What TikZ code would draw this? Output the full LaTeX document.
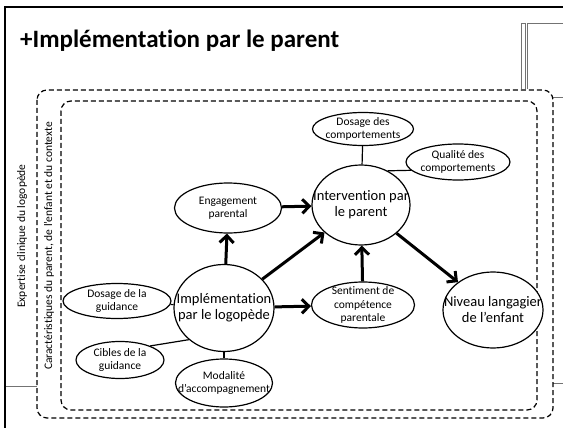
\documentclass[tikz,border=0pt]{standalone}
\usepackage{fontspec}
\setmainfont{Carlito}[Ligatures=NoCommon]
\usetikzlibrary{shapes.geometric,arrows.meta}
\begin{document}
\begin{tikzpicture}[x=1pt,y=-1pt,
  ell/.style={ellipse,draw,line width=1.2pt,fill=white,inner sep=0pt},
  small/.style={label={[font=\fontsize{11.5}{13.5}\selectfont,align=center,inner sep=0pt]center:#1}},
  big/.style={label={[font=\fontsize{14.5}{16}\selectfont,align=center,inner sep=0pt]center:#1}},
  bigarrow/.style={line width=3pt,-{Straight Barb[length=7pt,width=14pt]}},
  thinline/.style={line width=1.2pt},
  dashbox/.style={draw,dash pattern=on 5pt off 3pt,line width=1.2pt,rounded corners=10pt},
  grayline/.style={draw=black!55,line width=1pt},
  sidetext/.style={rotate=90,font=\fontsize{11.5}{13}\selectfont}]
\useasboundingbox[fill=white] (0,0) rectangle (563,428);
% slide frame pieces
\draw[grayline] (521,89) -- (521,24) -- (525,24) -- (525,89);
\draw[grayline] (527,89) -- (527,24) -- (563,24);
\draw[grayline] (553,98) -- (563,98);
\draw[grayline] (553,383) -- (563,383);
\draw[grayline] (5,386) -- (37,386);
\draw[line width=2pt] (5,428) -- (5,7) -- (563,7);
% title
\node[anchor=base west,inner sep=0pt,font=\bfseries\fontsize{25}{30}\selectfont] (title) at (20,48) {+Implémentation par le parent};
% dashed context boxes
\draw[dashbox] (37,90) rectangle (553,418);
\draw[dashbox] (61,101) rectangle (537,410);
\node[sidetext] (expertise) at (22,236) {Expertise clinique du logopède};
\node[sidetext] (carac) at (49,246) {Caractéristiques du parent, de l’enfant et du contexte};
% nodes
\node[ell,small={Engagement\\parental},minimum width=107pt,minimum height=50pt] (eng) at (228,208) {};
\node[ell,big={Intervention par\\le parent},minimum width=98pt,minimum height=80pt] (int) at (361,205) {};
\node[ell,small={Dosage des\\comportements},minimum width=101pt,minimum height=33pt] (dc) at (363,129) {};
\node[ell,small={Qualité des\\comportements},minimum width=104pt,minimum height=36pt] (qc) at (458,162) {};
\node[ell,big={Implémentation\\par le logopède},minimum width=100pt,minimum height=87pt] (impl) at (224,308) {};
\node[ell,small={Dosage de la\\guidance},minimum width=108pt,minimum height=35pt] (dg) at (117,301) {};
\node[ell,small={Cibles de la\\guidance},minimum width=88pt,minimum height=37pt] (cg) at (120,360) {};
\node[ell,small={Modalité\\d’accompagnement},minimum width=97pt,minimum height=48pt] (mod) at (224,383) {};
\node[ell,small={Sentiment de\\compétence\\parentale},minimum width=103pt,minimum height=46pt] (sent) at (363,305) {};
\node[ell,big={Niveau langagier\\de l’enfant},minimum width=100pt,minimum height=76pt] (niv) at (493,310) {};
% thin links
\draw[thinline] (dc) -- (int);
\draw[thinline] (int.52) -- (qc.190);
\draw[thinline] (dg) -- (impl);
\draw[thinline] (cg.25) -- (impl.222);
\draw[thinline] (mod) -- (impl);
% thick arrows
\draw[bigarrow] (impl) -- (eng);
\draw[bigarrow] (eng) -- (int);
\draw[bigarrow] (impl) -- (int);
\draw[bigarrow] (impl) -- (sent);
\draw[bigarrow] (sent) -- (int);
\draw[bigarrow] (int) -- (niv);
\end{tikzpicture}
\end{document}
